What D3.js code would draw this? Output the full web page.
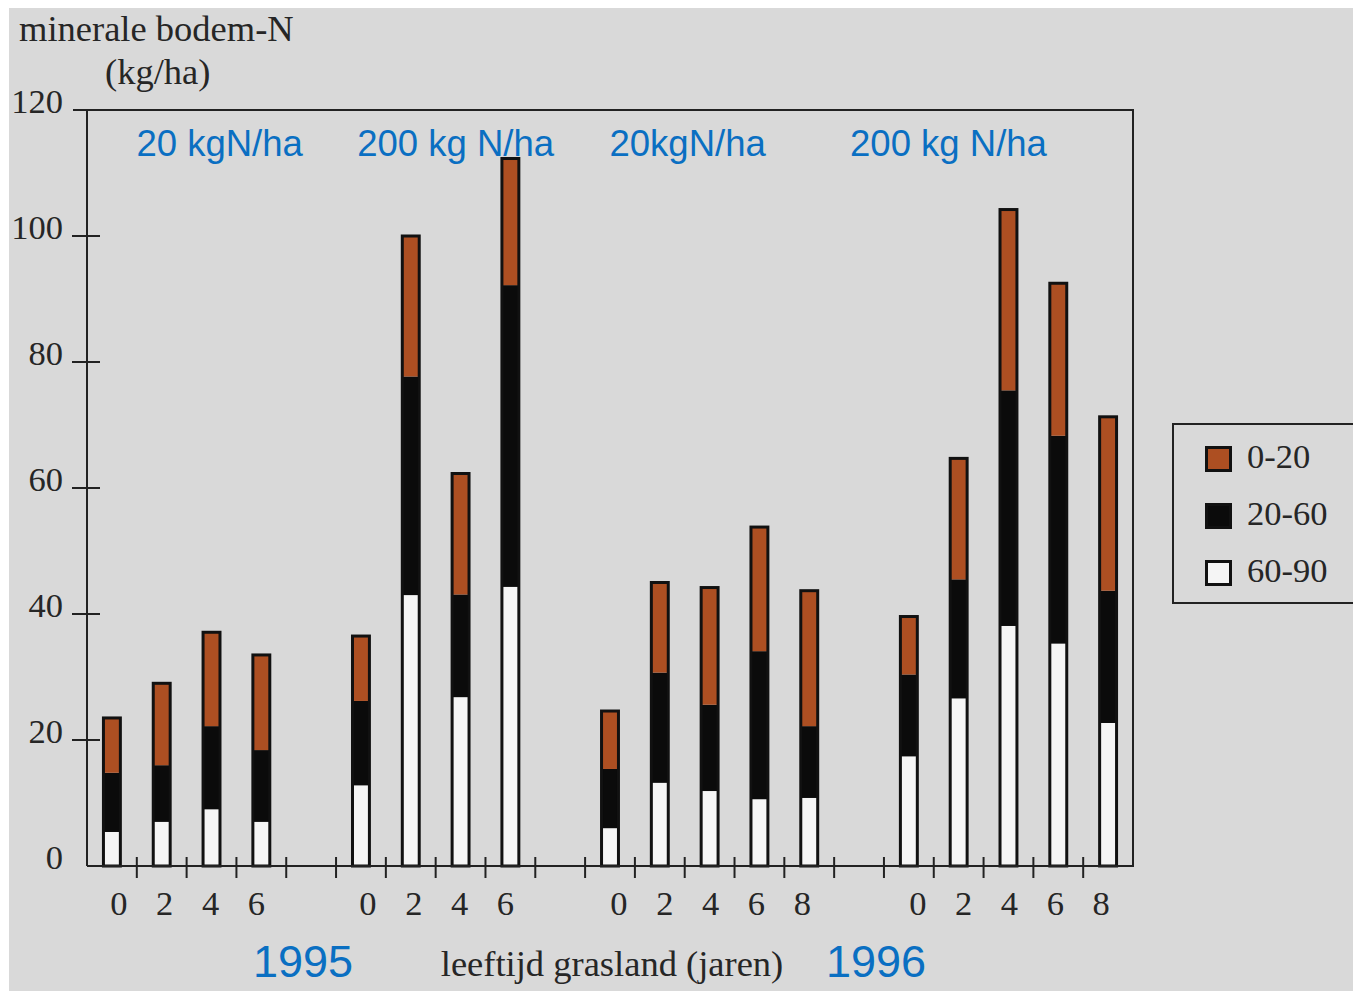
<!DOCTYPE html>
<html>
<head>
<meta charset="utf-8">
<script src="https://cdn.jsdelivr.net/npm/d3@7"></script>
<style>
  body { margin: 0; background: #fff; }
  svg { display: block; }
</style>
</head>
<body>
<div id="chart"></div>
<script>
// data
const groupLabels = ['20 kgN/ha', '200 kg N/ha', '20kgN/ha', '200 kg N/ha'];
const groupAges = [[0, 2, 4, 6], [0, 2, 4, 6], [0, 2, 4, 6, 8], [0, 2, 4, 6, 8]];
const years = ['1995', '1996'];
const layerNames = ['0-20', '20-60', '60-90'];
// per bar, in order of the groups above (kg N/ha in each soil layer, cm)
const layer60_90 = [5.4, 7.0, 9.0, 7.0, 12.8, 43.0, 26.8, 44.3, 6.0, 13.2, 11.9, 10.6, 10.8, 17.4, 26.6, 38.1, 35.3, 22.7];
const layer20_60 = [9.4, 9.0, 13.2, 11.4, 13.4, 34.7, 16.3, 47.9, 9.4, 17.5, 13.7, 23.5, 11.4, 13.0, 18.9, 37.4, 33.0, 21.0];
const layer0_20 = [8.7, 13.0, 14.9, 15.1, 10.3, 22.3, 19.2, 20.1, 9.2, 14.3, 18.6, 19.7, 21.5, 9.2, 19.2, 28.7, 24.2, 27.6];
const yTicks = [0, 20, 40, 60, 80, 100, 120];

const W = 1353, H = 991;
const plotLeft = 87, plotRight = 1133, plotTop = 110, plotBottom = 866;
const serif = '"Liberation Serif", "DejaVu Serif", serif';
const sans = '"Liberation Sans", Arial, sans-serif';
const blue = '#0a6fc2';
const ink = '#262626';
const colors = { '0-20': '#ad4f22', '20-60': '#0b0b0b', '60-90': '#f5f5f5' };

// one slot per bar, one empty slot between groups
const bars = [];
let slot = 0, idx = 0;
groupAges.forEach((ages, g) => {
  ages.forEach((age) => {
    bars.push({
      slot, group: g, age,
      '60-90': layer60_90[idx], '20-60': layer20_60[idx], '0-20': layer0_20[idx]
    });
    slot++; idx++;
  });
  slot++;
});
const nSlots = slot - 1;

const x = d3.scaleBand()
  .domain(d3.range(nSlots))
  .range([plotLeft, plotRight])
  .paddingInner(0.6)
  .paddingOuter(0.3);
const y = d3.scaleLinear().domain([0, 120]).range([plotBottom, plotTop]);

const svg = d3.select('#chart').append('svg')
  .attr('width', W)
  .attr('height', H);

// scanned paper look
svg.append('rect').attr('x', 9).attr('y', 8).attr('width', W - 9).attr('height', H - 8).attr('fill', '#d9d9d9');

const stack = d3.stack().keys(['60-90', '20-60', '0-20'])(bars);
const total = d => d['60-90'] + d['20-60'] + d['0-20'];

const barG = svg.append('g');
stack.forEach((layer) => {
  barG.selectAll(null)
    .data(layer)
    .join('rect')
    .attr('x', d => x(d.data.slot) + 1.5)
    .attr('width', x.bandwidth() - 3)
    .attr('y', d => y(d[1]))
    .attr('height', d => y(d[0]) - y(d[1]))
    .attr('fill', colors[layer.key]);
});
// bar outlines
barG.selectAll(null)
  .data(bars)
  .join('rect')
  .attr('x', d => x(d.slot) + 1.5)
  .attr('width', x.bandwidth() - 3)
  .attr('y', d => y(total(d)))
  .attr('height', d => y(0) - y(total(d)))
  .attr('fill', 'none')
  .attr('stroke', '#111')
  .attr('stroke-width', 3);

// frame
const axisColor = '#222';
svg.append('path')
  .attr('d', `M${plotLeft},${y(0)}H${plotRight}V${y(120)}H${plotLeft - 14}M${plotLeft},${y(120)}V${y(0)}`)
  .attr('fill', 'none')
  .attr('stroke', axisColor)
  .attr('stroke-width', 2);

// y ticks cross the axis
yTicks.filter(t => t > 0 && t < 120).forEach((t) => {
  svg.append('line')
    .attr('x1', plotLeft - 15).attr('x2', plotLeft + 13)
    .attr('y1', y(t)).attr('y2', y(t))
    .attr('stroke', axisColor).attr('stroke-width', 2);
});
svg.append('g').selectAll('text')
  .data(yTicks)
  .join('text')
  .attr('x', 63)
  .attr('y', d => y(d) + 3)
  .attr('text-anchor', 'end')
  .attr('font-family', serif)
  .attr('font-size', 34.5)
  .attr('fill', ink)
  .text(d => d);

// x ticks on slot boundaries
const gap = (x.step() - x.bandwidth()) / 2;
d3.range(1, nSlots).forEach((k) => {
  const xt = x(k) - gap;
  svg.append('line')
    .attr('x1', xt).attr('x2', xt)
    .attr('y1', y(0) - 9).attr('y2', y(0) + 12)
    .attr('stroke', axisColor).attr('stroke-width', 2);
});

// group centres, age labels sit a bit closer together than the bars
const groupCenter = groupAges.map((a, g) => {
  const gb = bars.filter(b => b.group === g);
  return (x(gb[0].slot) + x(gb[gb.length - 1].slot) + x.bandwidth()) / 2;
});
svg.append('g').selectAll('text')
  .data(bars)
  .join('text')
  .attr('x', (d) => {
    const bc = x(d.slot) + x.bandwidth() / 2;
    const gc = groupCenter[d.group];
    return gc + (bc - gc) * 0.92 + 1;
  })
  .attr('y', 915)
  .attr('text-anchor', 'middle')
  .attr('font-family', serif)
  .attr('font-size', 34.5)
  .attr('fill', ink)
  .text(d => d.age);

// axis titles
svg.append('text')
  .attr('x', 19).attr('y', 41)
  .attr('font-family', serif).attr('font-size', 36.5).attr('fill', ink)
  .text('minerale bodem-N');
svg.append('text')
  .attr('x', 105).attr('y', 84)
  .attr('font-family', serif).attr('font-size', 36.5).attr('fill', ink)
  .text('(kg/ha)');
svg.append('text')
  .attr('x', 612).attr('y', 976)
  .attr('text-anchor', 'middle')
  .attr('font-family', serif).attr('font-size', 36.5).attr('fill', ink)
  .text('leeftijd grasland (jaren)');

// blue annotations: dose per group, year below
const labelShift = [33, 20, -22, -60];
groupLabels.forEach((lab, g) => {
  svg.append('text')
    .attr('x', groupCenter[g] + labelShift[g]).attr('y', 156)
    .attr('text-anchor', 'middle')
    .attr('font-family', sans).attr('font-size', 36.5)
    .attr('fill', blue)
    .text(lab);
});
const yearX = [303, 876];
years.forEach((yr, i) => {
  svg.append('text')
    .attr('x', yearX[i]).attr('y', 977)
    .attr('text-anchor', 'middle')
    .attr('font-family', sans).attr('font-size', 45)
    .attr('fill', blue)
    .text(yr);
});

// legend
const lg = svg.append('g').attr('transform', 'translate(1173,424)');
lg.append('rect')
  .attr('width', 200).attr('height', 179)
  .attr('fill', 'none').attr('stroke', axisColor).attr('stroke-width', 2);
layerNames.forEach((name, i) => {
  const row = lg.append('g').attr('transform', `translate(32,${22 + i * 57})`);
  row.append('rect')
    .attr('x', 1.5).attr('y', 1.5)
    .attr('width', 24).attr('height', 23)
    .attr('fill', colors[name])
    .attr('stroke', '#111').attr('stroke-width', 3);
  row.append('text')
    .attr('x', 42).attr('y', 22)
    .attr('font-family', serif).attr('font-size', 34.5).attr('fill', ink)
    .text(name);
});
</script>
</body>
</html>
